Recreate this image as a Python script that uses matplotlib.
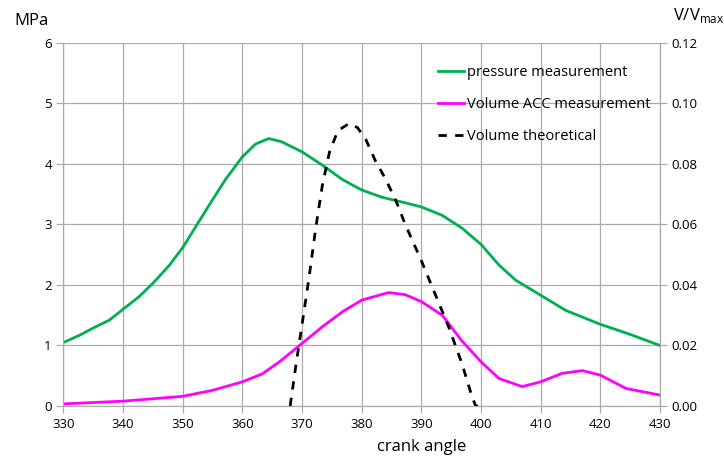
import matplotlib
matplotlib.use("Agg")
import matplotlib.pyplot as plt

plt.rcParams['font.family'] = ['Open Sans', 'DejaVu Sans']

# Pressure measurement (MPa)
p_angle = [330, 332.7, 335, 337.7, 340, 342.7, 345, 347.7, 350, 352.2, 355, 357.2, 360, 362.2,
           364.4, 366.5, 370, 373.4, 376.8, 380, 383.4, 386.8, 390, 393.5, 396.8, 400, 403,
           405.8, 410, 414.2, 420, 424.8, 430]
p_val = [1.05, 1.17, 1.29, 1.42, 1.60, 1.81, 2.03, 2.32, 2.62, 2.97, 3.41, 3.75, 4.12, 4.33,
         4.42, 4.37, 4.20, 3.98, 3.74, 3.57, 3.45, 3.37, 3.29, 3.15, 2.94, 2.67, 2.33,
         2.08, 1.83, 1.58, 1.35, 1.19, 1.00]

# Volume ACC measurement (V/Vmax)
va_angle = [330, 340, 350, 355, 360, 363.3, 366.2, 370, 373.4, 376.8, 380, 384.5, 387.3, 390,
            393.5, 396.8, 400, 403, 406.9, 410, 413.6, 417, 420, 424.3, 430]
va_val = [0.0007, 0.0016, 0.0032, 0.0052, 0.0080, 0.0106, 0.0146, 0.0207, 0.0262, 0.0312,
          0.0350, 0.0375, 0.0368, 0.0345, 0.0300, 0.0215, 0.0146, 0.0091, 0.0064, 0.0080,
          0.0108, 0.0117, 0.0102, 0.0058, 0.0036]

# Volume theoretical (V/Vmax)
vt_angle = [368, 369, 370, 371.2, 372.3, 373.4, 374.6, 376, 377.9, 379.3, 380.7, 382.3, 384,
            385.7, 387.3, 390, 392.3, 394.6, 396.8, 398.5, 399.1, 400]
vt_val = [0.0, 0.014, 0.027, 0.043, 0.059, 0.073, 0.084, 0.091, 0.0934, 0.092, 0.088, 0.081,
          0.075, 0.068, 0.060, 0.048, 0.037, 0.026, 0.014, 0.003, 0.0, 0.0]

x_ticks = [330, 340, 350, 360, 370, 380, 390, 400, 410, 420, 430]
y_left_ticks = [0, 1, 2, 3, 4, 5, 6]
y_right_ticks = [0.00, 0.02, 0.04, 0.06, 0.08, 0.10, 0.12]

fig = plt.figure(figsize=(7.24, 4.57), dpi=100)
ax = fig.add_axes([0.0877, 0.1116, 0.8239, 0.7944])
ax2 = ax.twinx()

grid_c = '#ababab'
ax.set_xlim(330, 430)
ax.set_ylim(0, 6)
ax2.set_ylim(0, 0.12)
ax.set_xticks(x_ticks)
ax.set_yticks(y_left_ticks)
ax2.set_yticks(y_right_ticks)
ax.set_yticklabels([str(v) for v in y_left_ticks])
ax2.set_yticklabels([f"{v:.2f}" for v in y_right_ticks])
ax.grid(True, color=grid_c, linewidth=0.9)
ax.set_axisbelow(True)

for a in (ax, ax2):
    a.spines['top'].set_visible(False)
    for s in ('left', 'right', 'bottom'):
        a.spines[s].set_color(grid_c)
    a.tick_params(colors=grid_c, labelcolor='black', labelsize=9.5, length=5, width=0.9)

l1, = ax.plot(p_angle, p_val, color='#00b050', linewidth=2.0, label='pressure measurement')
l2, = ax2.plot(va_angle, va_val, color='#ff00ff', linewidth=2.0, label='Volume ACC measurement')
l3, = ax2.plot(vt_angle, vt_val, color='black', linewidth=2.0, dashes=(3, 3),
               label='Volume theoretical')

leg = ax2.legend(handles=[l1, l2, l3], loc='upper left', bbox_to_anchor=(0.605, 0.975),
                 frameon=False, fontsize=10.5, handlelength=1.8, handletextpad=0.2,
                 labelspacing=1.15)

fig.text(0.02, 0.955, 'MPa', fontsize=12, ha='left', va='center')
fig.text(0.93, 0.965, r'V/V$_{\mathregular{max}}$', fontsize=12, ha='left', va='center')
fig.text(0.582, 0.022, 'crank angle', fontsize=12, ha='center', va='center')

fig.savefig('out.png', dpi=100)
